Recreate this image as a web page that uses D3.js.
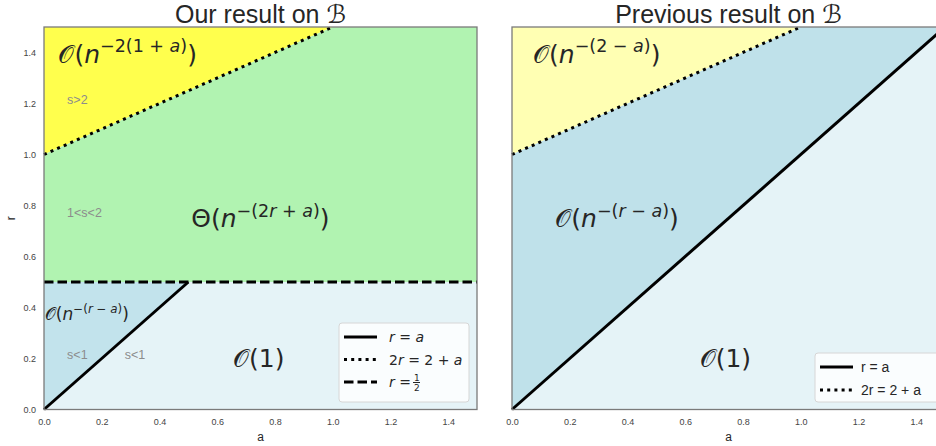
<!DOCTYPE html>
<html>
<head>
<meta charset="utf-8">
<script src="https://cdn.jsdelivr.net/npm/d3@7"></script>
<style>
  body { margin: 0; background: #fff; }
  svg text { font-family: "Liberation Sans", Arial, sans-serif; }
  .math { font-family: "DejaVu Sans", sans-serif; fill: #262626; }
</style>
</head>
<body>
<div id="chart"></div>
<script>
// Axis domain and ticks
const aDomain = [0, 1.5];
const rDomain = [0, 1.5];
const tickValues = [0, 0.2, 0.4, 0.6, 0.8, 1.0, 1.2, 1.4];

// Boundary lines, as [a, r] points
const lineRA = [[0, 0], [0.5, 0.5]];          // r = a, limited to r < 1/2 (ours)
const lineRAFull = [[0, 0], [1.5, 1.5]];      // r = a (previous)
const lineDotted = [[0, 1], [1, 1.5]];        // 2r = 2 + a
const lineHalf = [[0, 0.5], [1.5, 0.5]];      // r = 1/2

// Regions, as [a, r] polygons
const oursYellow = [[0, 1], [1, 1.5], [0, 1.5]];
const oursGreen = [[0, 0.5], [1.5, 0.5], [1.5, 1.5], [1, 1.5], [0, 1]];
const oursBlue = [[0, 0], [0.5, 0.5], [0, 0.5]];
const oursLight = [[0, 0], [1.5, 0], [1.5, 0.5], [0.5, 0.5]];
const prevYellow = [[0, 1], [1, 1.5], [0, 1.5]];
const prevBlue = [[0, 0], [1.5, 1.5], [1, 1.5], [0, 1]];
const prevLight = [[0, 0], [1.5, 0], [1.5, 1.5]];

const colors = {
  yellow: "#ffff4d", green: "#b1f3b1", blue: "#c2e3ec",
  light: "#e5f3f7", paleYellow: "#ffffb3", prevBlue: "#bfe1ea"
};

const W = 936, H = 446;
const panelW = 433, panelH = 382.5;
const panels = [{left: 44, top: 27}, {left: 512, top: 27}];

const svg = d3.select("#chart").append("svg")
  .attr("width", W).attr("height", H);

// little helper for mathtext-like labels: [text, italic?, superscript?]
function mathLabel(g, x, y, size, parts) {
  const t = g.append("text").attr("class", "math")
    .attr("x", x).attr("y", y).style("font-size", size + "px");
  let inSup = false;
  parts.forEach(([s, it, sup]) => {
    const ts = t.append("tspan").text(s);
    if (it) ts.style("font-style", "italic");
    if (sup) ts.style("font-size", (size * 0.7) + "px");
    if (sup && !inSup) ts.attr("dy", -size * 0.42);
    if (!sup && inSup) ts.attr("dy", size * 0.42);
    inSup = sup;
  });
  return t;
}

function drawPanel(p, title, regions, lines, showY) {
  const g = svg.append("g").attr("transform", `translate(${p.left},${p.top})`);
  const x = d3.scaleLinear().domain(aDomain).range([0, panelW]);
  const y = d3.scaleLinear().domain(rDomain).range([panelH, 0]);
  const poly = d3.line().x(d => x(d[0])).y(d => y(d[1]));

  regions.forEach(([pts, fill]) => {
    g.append("path").attr("d", poly(pts) + "Z").attr("fill", fill);
  });

  lines.forEach(([pts, dash]) => {
    g.append("path").attr("d", poly(pts))
      .attr("fill", "none").attr("stroke", "#000")
      .attr("stroke-width", 3)
      .attr("stroke-dasharray", dash);
  });

  // Axes without tick marks (seaborn white style)
  const axes = [g.append("g").attr("transform", `translate(0,${panelH})`)
    .call(d3.axisBottom(x).tickValues(tickValues).tickFormat(d3.format(".1f")).tickSize(0).tickPadding(9))];
  if (showY) {
    axes.push(g.append("g")
      .call(d3.axisLeft(y).tickValues(tickValues).tickFormat(d3.format(".1f")).tickSize(0).tickPadding(8)));
    g.append("text").attr("transform", `translate(-29,${panelH / 2}) rotate(-90)`)
      .attr("text-anchor", "middle").style("font-size", "12px").attr("fill", "#262626").text("r");
  }
  axes.forEach(ax => {
    ax.select(".domain").remove();
    ax.selectAll("text").style("font-size", "9px").attr("fill", "#444")
      .style("font-family", "'Liberation Sans', Arial, sans-serif");
  });

  g.append("rect").attr("width", panelW).attr("height", panelH)
    .attr("fill", "none").attr("stroke", "#7a7a7a").attr("stroke-width", 1.3);

  g.append("text").attr("x", panelW / 2).attr("y", panelH + 31)
    .attr("text-anchor", "middle").style("font-size", "12px").attr("fill", "#262626").text("a");

  const tt = g.append("text").attr("x", panelW / 2).attr("y", -4)
    .attr("text-anchor", "middle").style("font-size", "25px").attr("fill", "#262626");
  tt.append("tspan").text(title + " ");
  tt.append("tspan").style("font-family", "'DejaVu Sans', sans-serif").style("font-style", "italic").text("ℬ");

  return {g, x, y};
}

function legend(g, left, top, w, h, rows, size, rowH) {
  const lg = g.append("g").attr("transform", `translate(${left},${top})`);
  lg.append("rect").attr("width", w).attr("height", h).attr("rx", 3)
    .attr("fill", "#fff").attr("fill-opacity", 0.8).attr("stroke", "#d6d6d6");
  rows.forEach(([dash, parts], i) => {
    const cy = 14 + i * rowH;
    lg.append("line").attr("x1", 5).attr("x2", 38).attr("y1", cy).attr("y2", cy)
      .attr("stroke", "#000").attr("stroke-width", 3).attr("stroke-dasharray", dash);
    if (typeof parts === "string") {
      lg.append("text").attr("x", 46).attr("y", cy + size * 0.36)
        .style("font-size", size + "px").attr("fill", "#262626").text(parts);
    } else {
      parts(lg, 50, cy);
    }
  });
}

// ---- Left panel: our result ----
const L = drawPanel(panels[0], "Our result on", [
  [oursYellow, colors.yellow], [oursGreen, colors.green],
  [oursBlue, colors.blue], [oursLight, colors.light]
], [
  [lineDotted, "3,4.2"], [lineHalf, "9.5,4"], [lineRA, null]
], true);

mathLabel(L.g, L.x(0.05), L.y(1.36), 25, [["𝒪(", 0, 0], ["n", 1, 0], ["−2(1 + ", 0, 1], ["a", 1, 1], [")", 0, 1], [")", 0, 0]]);
mathLabel(L.g, L.x(0.51), L.y(0.715), 25, [["Θ(", 0, 0], ["n", 1, 0], ["−(2", 0, 1], ["r", 1, 1], [" + ", 0, 1], ["a", 1, 1], [")", 0, 1], [")", 0, 0]]);
mathLabel(L.g, L.x(0.003), L.y(0.35), 17, [["𝒪(", 0, 0], ["n", 1, 0], ["−(", 0, 1], ["r", 1, 1], [" − ", 0, 1], ["a", 1, 1], [")", 0, 1], [")", 0, 0]]);
mathLabel(L.g, L.x(0.655), L.y(0.165), 25, [["𝒪(1)", 0, 0]]);

[["s>2", 0.08, 1.2], ["1<s<2", 0.08, 0.755], ["s<1", 0.08, 0.2], ["s<1", 0.28, 0.2]].forEach(([s, a, r]) => {
  L.g.append("text").attr("x", L.x(a)).attr("y", L.y(r)).style("font-size", "12.5px")
    .attr("fill", "#8c8c8c").text(s);
});

legend(L.g, 295, 296, 130, 79, [
  [null, (g, x, y) => mathLabel(g, x, y + 5, 14, [["r", 1, 0], [" = ", 0, 0], ["a", 1, 0]])],
  ["3,4.2", (g, x, y) => mathLabel(g, x, y + 5, 14, [["2", 0, 0], ["r", 1, 0], [" = 2 + ", 0, 0], ["a", 1, 0]])],
  ["9.5,4", (g, x, y) => {
    mathLabel(g, x, y + 5, 14, [["r", 1, 0], [" = ", 0, 0]]);
    g.append("text").attr("class", "math").attr("x", x + 25).attr("y", y - 1).style("font-size", "9px").text("1");
    g.append("line").attr("x1", x + 24).attr("x2", x + 31).attr("y1", y + 0.5).attr("y2", y + 0.5).attr("stroke", "#262626");
    g.append("text").attr("class", "math").attr("x", x + 25).attr("y", y + 9).style("font-size", "9px").text("2");
  }]
], 14, 22.5);

// ---- Right panel: previous result ----
const R = drawPanel(panels[1], "Previous result on", [
  [prevYellow, colors.paleYellow], [prevBlue, colors.prevBlue], [prevLight, colors.light]
], [
  [lineDotted, "3,4.2"], [lineRAFull, null]
], false);

mathLabel(R.g, R.x(0.073), R.y(1.36), 25, [["𝒪(", 0, 0], ["n", 1, 0], ["−(2 − ", 0, 1], ["a", 1, 1], [")", 0, 1], [")", 0, 0]]);
mathLabel(R.g, R.x(0.15), R.y(0.715), 25, [["𝒪(", 0, 0], ["n", 1, 0], ["−(", 0, 1], ["r", 1, 1], [" − ", 0, 1], ["a", 1, 1], [")", 0, 1], [")", 0, 0]]);
mathLabel(R.g, R.x(0.65), R.y(0.165), 25, [["𝒪(1)", 0, 0]]);

legend(R.g, 303, 326, 128, 49, [
  [null, "r = a"], ["3,4.2", "2r = 2 + a"]
], 14, 23);
</script>
</body>
</html>
